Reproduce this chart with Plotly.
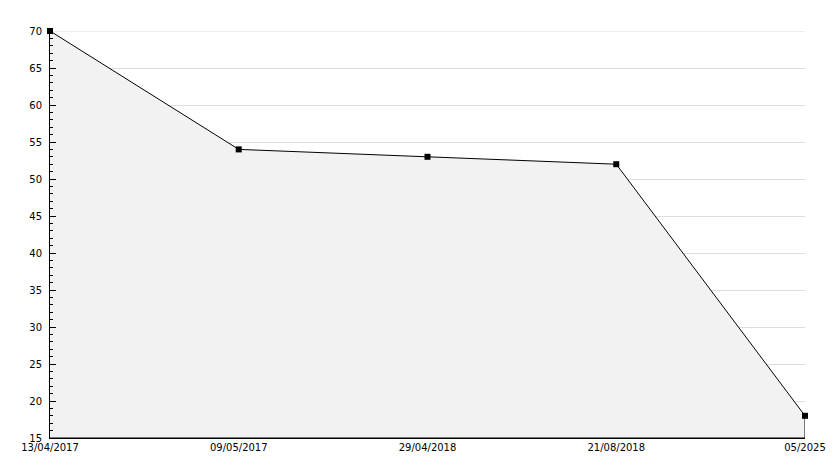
import plotly.graph_objects as go

dates = ["13/04/2017", "09/05/2017", "29/04/2018", "21/08/2018", "05/2025"]
values = [70, 54, 53, 52, 18]
y_min, y_max = 15, 70

xs = list(range(len(dates)))

fig = go.Figure()
# filled area polygon down to axis bottom
fig.add_trace(go.Scatter(
    x=xs + [xs[-1], xs[0]],
    y=values + [y_min, y_min],
    mode="lines",
    fill="toself",
    fillcolor="#f2f2f2",
    line=dict(color="black", width=1),
    hoverinfo="skip",
    showlegend=False,
))
fig.add_trace(go.Scatter(
    x=xs, y=values, mode="markers",
    marker=dict(symbol="square", size=6, color="black"),
    cliponaxis=False,
    showlegend=False,
))

# top gridline (plotly omits the gridline at the range edge)
fig.add_shape(type="line", xref="paper", yref="y", x0=0, x1=1, y0=y_max, y1=y_max,
              line=dict(color="#dddddd", width=1), layer="below")

fig.update_layout(
    width=834, height=468,
    margin=dict(l=50, r=29, t=31, b=30),
    paper_bgcolor="white", plot_bgcolor="white",
    font=dict(family="DejaVu Sans", size=10, color="black"),
    xaxis=dict(
        range=[0, len(dates) - 1],
        tickvals=xs, ticktext=dates,
        showgrid=False, zeroline=False,
        showline=True, linecolor="black", linewidth=1,
        ticks="", tickfont=dict(size=10), automargin=False,
    ),
    yaxis=dict(
        range=[y_min, y_max],
        dtick=5, tick0=0,
        showgrid=True, gridcolor="#dddddd", gridwidth=1,
        zeroline=False,
        showline=True, linecolor="black", linewidth=1,
        ticks="inside", ticklen=6, tickcolor="black",
        minor=dict(dtick=1, ticks="inside", ticklen=3, tickcolor="black", showgrid=False),
        tickfont=dict(size=10), automargin=False,
        ticklabelstandoff=5,
    ),
)

fig.write_html("out.html", config={"displayModeBar": False},
               post_script="document.body.style.margin='0';document.body.style.overflow='hidden';")
